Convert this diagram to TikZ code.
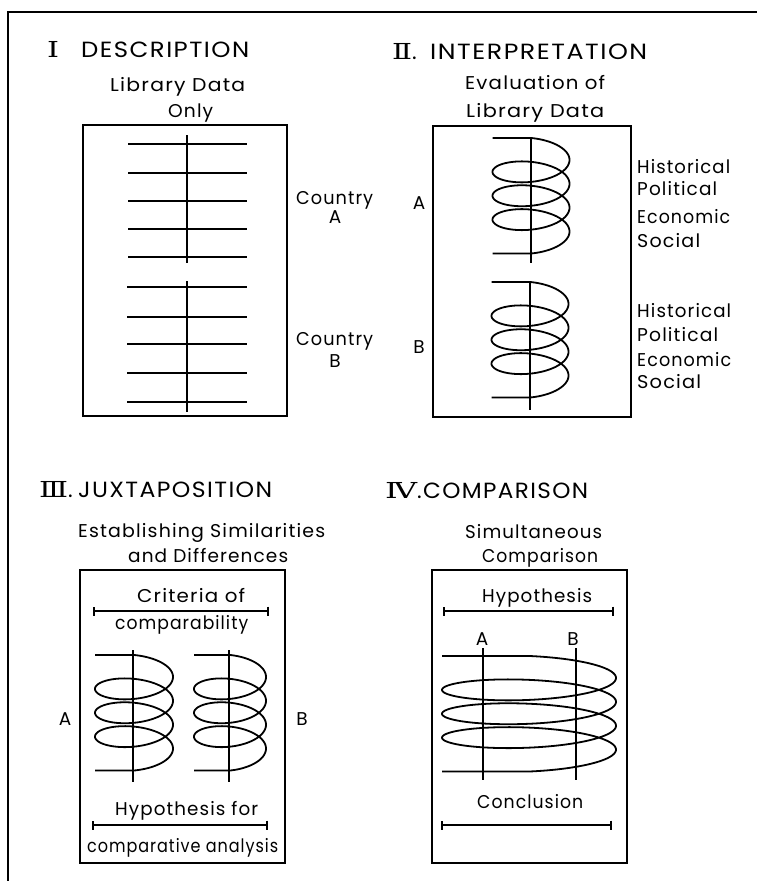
\documentclass[tikz,border=0pt]{standalone}
\usepackage{fontspec}
\usepackage{graphicx}
\setmainfont{Poppins}[LetterSpace=6]
\newfontfamily\numfont{DejaVu Serif}
\usetikzlibrary{arrows.meta}
\newcommand\fitw[2]{\resizebox{#1}{\height}{#2}}
\tikzset{
  lbl/.style={font=\fontsize{18.5}{20}\selectfont, inner sep=0pt, anchor=base},
  wlbl/.style={font=\fontsize{18.5}{20}\selectfont, inner sep=0pt, anchor=base west},
  ttl/.style={font=\fontsize{22}{24}\selectfont, inner sep=0pt, anchor=base west},
  boxline/.style={line width=2.2pt, line join=miter},
  rung/.style={line width=2.2pt},
  coilline/.style={line width=1.8pt, line join=round},
  interval/.style={line width=2pt, {Bar[width=9pt,line width=2pt]}-{Bar[width=9pt,line width=2pt]}},
  frameline/.style={line width=2pt}
}
% coil: centre x, top y, half width
\newcommand\mycoil[3]{%
  \begin{scope}[shift={(#1,#2)}]
    \draw[coilline] (-#3,0) -- (0,0) -- plot[domain=90:1350,samples=420]
      ({-#3*cos(\x)},{10+0.06632*\x-16*sin(\x)}) -- (-#3,115.5);
  \end{scope}}
\begin{document}
\begin{tikzpicture}[x=1pt,y=-1pt]
\useasboundingbox (0,0) rectangle (757,881);
\fill[white] (0,0) rectangle (757,881);
% page frame
\coordinate (fTL) at (8,12);
\coordinate (fTR) at (757,12);
\coordinate (fBL) at (8,881);
\draw[frameline] (fTR) -- (fTL) -- (fBL);

% ---------- I DESCRIPTION ----------
\node[ttl] (t1) at (47,57) {\makebox[34pt][l]{\fitw{12pt}{\numfont I}}\fitw{168pt}{DESCRIPTION}};
\node[wlbl] (l1a) at (110,91) {\fitw{135pt}{Library Data}};
\node[wlbl] (l1b) at (168,117) {\fitw{45pt}{Only}};
\draw[boxline] (83,125) rectangle (287,416);
\draw[rung] (187,135) -- (187,263);
\foreach \yy in {144,173,201,229,257} \draw[rung] (128,\yy) -- (247,\yy);
\draw[rung] (187,281) -- (187,412);
\foreach \yy in {287,317,344,373,402} \draw[rung] (127,\yy) -- (247,\yy);
\node[wlbl] (cA) at (296,204) {\fitw{77pt}{Country}};
\node[lbl] (cAl) at (335,223) {A};
\node[wlbl] (cB) at (296,345) {\fitw{77pt}{Country}};
\node[lbl] (cBl) at (335,367) {B};

% ---------- II INTERPRETATION ----------
\node[ttl] (t2) at (392,59) {\fitw{20pt}{\numfont Ⅱ}\makebox[18pt][l]{.}\fitw{217pt}{INTERPRETATION}};
\node[wlbl] (l2a) at (465,89) {\fitw{140pt}{Evaluation of}};
\node[wlbl] (l2b) at (466,117) {\fitw{138pt}{Library Data}};
\draw[boxline] (433,126) rectangle (631,417);
\mycoil{531}{138}{38.5}
\draw[rung] (531,137) -- (531,263);
\mycoil{530}{282}{38.5}
\draw[rung] (530,281) -- (530,410);
\node[lbl] (iiA) at (419,209) {A};
\node[lbl] (iiB) at (419,353) {B};
\node[wlbl] (h1) at (637,173) {\fitw{93pt}{Historical}};
\node[wlbl] (p1) at (637,195) {\fitw{80pt}{Political}};
\node[wlbl] (e1) at (637,223) {\fitw{93pt}{Economic}};
\node[wlbl] (s1) at (637,247) {\fitw{63pt}{Social}};
\node[wlbl] (h2) at (637,317) {\fitw{94pt}{Historical}};
\node[wlbl] (p2) at (637,341) {\fitw{81pt}{Political}};
\node[wlbl] (e2) at (637,366) {\fitw{94pt}{Economic}};
\node[wlbl] (s2) at (637,388) {\fitw{64pt}{Social}};

% ---------- III JUXTAPOSITION ----------
\node[ttl] (t3) at (39,497) {\fitw{29pt}{\numfont Ⅲ}\makebox[10pt][l]{.}\fitw{194pt}{JUXTAPOSITION}};
\node[wlbl] (l3a) at (78,537) {\fitw{247pt}{Establishing Similarities}};
\node[wlbl] (l3b) at (128,562) {\fitw{160pt}{and Differences}};
\draw[boxline] (80,570) rectangle (285,863);
\node[wlbl] (crit) at (137,602) {\fitw{108pt}{Criteria of}};
\coordinate (b3aL) at (93,611);
\coordinate (b3aR) at (269,611);
\draw[interval] (b3aL) -- (b3aR);
\node[wlbl] (comp) at (115,629) {\fitw{133pt}{comparability}};
\mycoil{134}{655}{39}
\draw[rung] (133,650) -- (133,782);
\mycoil{230}{655}{36}
\draw[rung] (229,650) -- (229,782);
\node[lbl] (iiiA) at (65,725) {A};
\node[lbl] (iiiB) at (302,725) {B};
\node[wlbl] (hyp3) at (115,815) {\fitw{143pt}{Hypothesis for}};
\coordinate (b3bL) at (92,825);
\coordinate (b3bR) at (268,825);
\draw[interval] (b3bL) -- (b3bR);
\node[wlbl] (cana) at (87,852) {\fitw{191pt}{comparative analysis}};

% ---------- IV COMPARISON ----------
\node[ttl] (t4) at (385,498) {\fitw{32pt}{\numfont Ⅳ}\makebox[6pt][l]{.}\fitw{165pt}{COMPARISON}};
\node[wlbl] (l4a) at (465,538) {\fitw{137pt}{Simultaneous}};
\node[wlbl] (l4b) at (482,562) {\fitw{116pt}{Comparison}};
\draw[boxline] (432,570) rectangle (627,863);
\node[wlbl] (hyp4) at (482,602) {\fitw{110pt}{Hypothesis}};
\coordinate (b4aL) at (443,611);
\coordinate (b4aR) at (614,611);
\draw[interval] (b4aL) -- (b4aR);
\node[lbl] (ivA) at (482,645) {A};
\node[lbl] (ivB) at (573,645) {B};
\mycoil{529}{656}{87}
\draw[rung] (483,648) -- (483,780);
\draw[rung] (576,648) -- (576,780);
\node[wlbl] (concl) at (477,808) {\fitw{106pt}{Conclusion}};
\coordinate (b4bL) at (441,825);
\coordinate (b4bR) at (612,825);
\draw[interval] (b4bL) -- (b4bR);
\end{tikzpicture}
\end{document}
